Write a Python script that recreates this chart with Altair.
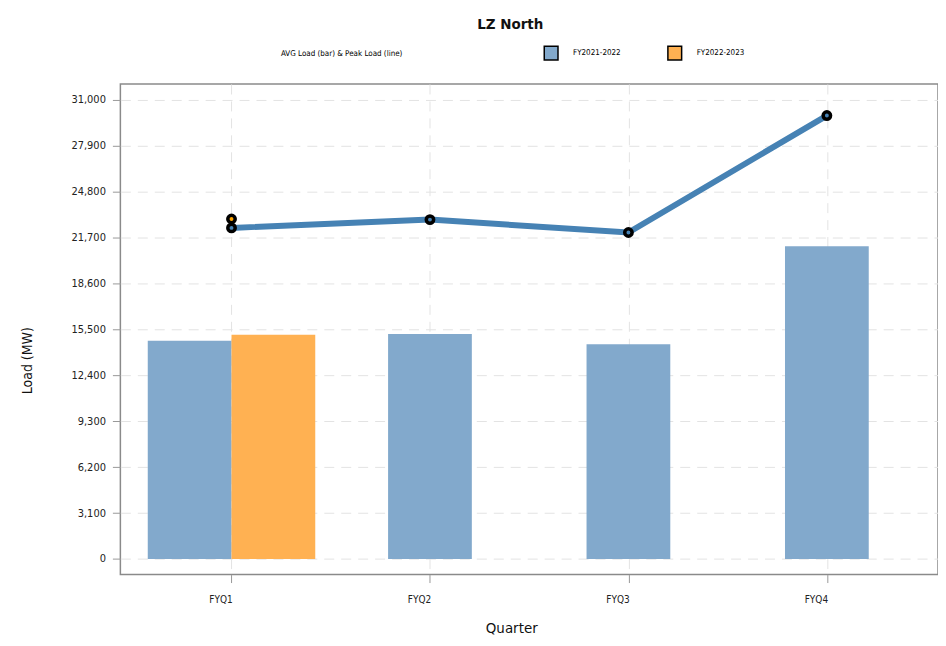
import altair as alt
import pandas as pd

# ---- data ----
quarters = ["FYQ1", "FYQ2", "FYQ3", "FYQ4"]
series = ["FY2021-2022", "FY2022-2023"]
avg_fy2122 = [14730, 15180, 14490, 21100]
avg_fy2223 = [15130, None, None, None]
peak_fy2122 = [22340, 22900, 22030, 29920]
peak_fy2223 = [22940, None, None, None]
y_ticks = [0, 3100, 6200, 9300, 12400, 15500, 18600, 21700, 24800, 27900, 31000]

BAR_COLORS = ["#82A9CC", "#FFB152"]
LINE_COLORS = ["#4682B4", "#FFA500"]
BAR_W = 0.422
FONT = "Liberation Sans Narrow, DejaVu Sans Condensed, sans-serif"

# ---- build tables ----
bar_rows = []
for qi, q in enumerate(quarters):
    present = [(s, v) for s, v in zip(series, [avg_fy2122[qi], avg_fy2223[qi]]) if v is not None]
    n = len(present)
    for i, (s, v) in enumerate(present):
        start = (qi + 1) + (i - n / 2) * BAR_W
        bar_rows.append({"quarter": q, "qn": qi + 1, "series": s, "value": v,
                         "x0": start, "x1": start + BAR_W})
bars_df = pd.DataFrame(bar_rows)

peak_rows = []
for s, vals in zip(series, [peak_fy2122, peak_fy2223]):
    for qi, q in enumerate(quarters):
        if vals[qi] is not None:
            peak_rows.append({"quarter": q, "qn": qi + 1, "series": s, "peak": vals[qi]})
peak_df = pd.DataFrame(peak_rows)

label_expr = "[" + ",".join(f"'{q}'" for q in quarters) + "][datum.value - 1]"

x_scale = alt.Scale(domain=[0.44, 4.56], nice=False, zero=False)
y_scale = alt.Scale(domain=[-1050, 32050], nice=False, zero=False)

x_axis = alt.Axis(values=list(range(1, len(quarters) + 1)), labelExpr=label_expr,
                  title="Quarter", grid=True, gridDash=[10, 7], gridColor="#e3e3e3",
                  domain=False, tickColor="#999999", tickSize=8, labelPadding=12,
                  labelOffset=-11, labelFontSize=10, titleFontSize=15, titleFontWeight="normal",
                  titlePadding=16, titleX=392, labelColor="#222", titleColor="#111")
y_axis = alt.Axis(values=y_ticks, format=",d", title="Load (MW)", grid=True,
                  gridDash=[10, 7], gridColor="#e3e3e3", domain=False,
                  tickColor="#999999", tickSize=8, labelPadding=7, labelFontSize=11,
                  titleFontSize=14, titleFontWeight="normal", titleX=-86, titleY=277,
                  labelColor="#222", titleColor="#111")

bars = alt.Chart(bars_df).mark_bar(opacity=1).encode(
    x=alt.X("x0:Q", scale=x_scale, axis=x_axis),
    x2="x1:Q",
    y=alt.Y("value:Q", scale=y_scale, axis=y_axis),
    y2=alt.datum(0),
    color=alt.Color("series:N", scale=alt.Scale(domain=series, range=BAR_COLORS),
                    legend=alt.Legend(title="AVG Load (bar) & Peak Load (line)",
                                      orient="none", legendX=161, legendY=-39,
                                      direction="horizontal", titleOrient="left",
                                      titlePadding=141, titleFontSize=8,
                                      titleFontWeight="normal", labelFontSize=8,
                                      symbolType="square", symbolSize=190,
                                      symbolStrokeColor="black", symbolStrokeWidth=1.5,
                                      symbolOpacity=1, labelOffset=14, columnPadding=44,
                                      titleAnchor="middle", titleBaseline="middle")),
)

line = alt.Chart(peak_df).mark_line(strokeWidth=6).encode(
    x=alt.X("qn:Q", scale=x_scale),
    y=alt.Y("peak:Q", scale=y_scale),
    color=alt.Color("series:N", scale=alt.Scale(domain=series, range=LINE_COLORS), legend=None),
)

points = alt.Chart(peak_df).mark_point(filled=True, shape="circle", size=55,
                                       stroke="black", strokeWidth=3.5, opacity=1).encode(
    x=alt.X("qn:Q", scale=x_scale),
    y=alt.Y("peak:Q", scale=y_scale),
    fill=alt.Fill("series:N", scale=alt.Scale(domain=series, range=LINE_COLORS), legend=None),
)

chart = alt.layer(bars, line, points).resolve_scale(color="independent", fill="independent").properties(
    width=820, height=492,
    title=alt.TitleParams("LZ North", fontSize=15, fontWeight="bold", font=FONT,
                          anchor="middle", dx=-19, offset=13, color="#111"),
    autosize=alt.AutoSizeParams(type="none"),
    padding={"left": 112.7, "top": 75.3, "right": 0, "bottom": 62.5},
).configure(font=FONT).configure_view(
    stroke="#8a8a8a", strokeWidth=1.5
).configure_axis(labelFont=FONT, titleFont=FONT).configure_legend(labelFont=FONT, titleFont=FONT)

chart.save("out.html", embed_options={"renderer": "svg", "actions": False})
